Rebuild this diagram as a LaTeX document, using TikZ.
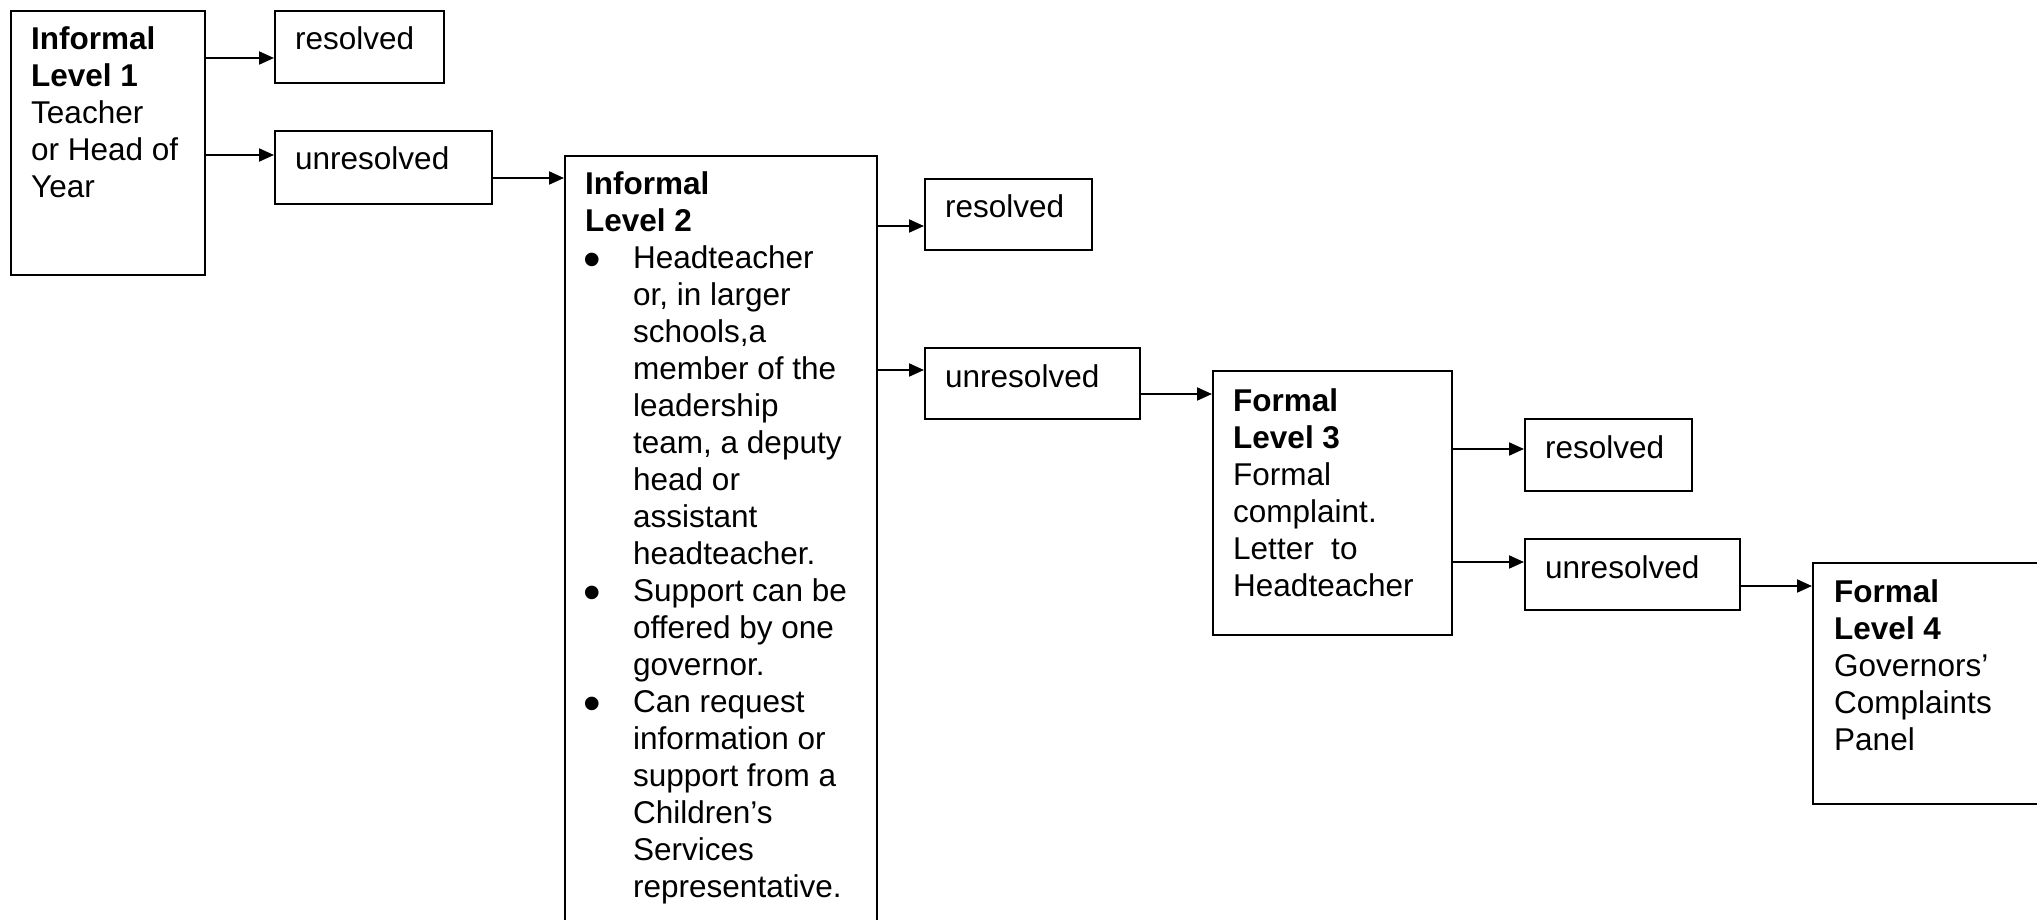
\documentclass[tikz,border=0pt]{standalone}
\usepackage{fontspec}
\setmainfont{Liberation Sans}
\usetikzlibrary{arrows.meta}
\newcommand{\bul}{\makebox[48pt][l]{\makebox[14pt][c]{\fontsize{50}{37}\selectfont\raisebox{-8pt}{•}}}}
\newcommand{\ind}{\hspace*{48pt}}
\begin{document}
\begin{tikzpicture}[x=1pt,y=-1pt,
  box/.style={draw, line width=2pt, inner sep=0pt, anchor=north west},
  txt/.style={inner sep=0pt, anchor=base west, font=\fontsize{31.5}{37}\selectfont},
  arr/.style={line width=2pt, -{Triangle[length=15pt,width=13pt]}}]
\useasboundingbox (0,0) rectangle (2037,920);
\clip (0,0) rectangle (2037,920);
% boxes
\node[box, minimum width=194pt, minimum height=264pt] (l1) at (10,10) {};
\node[box, minimum width=169pt, minimum height=72pt] (r1) at (274,10) {};
\node[box, minimum width=217pt, minimum height=73pt] (u1) at (274,130) {};
\node[box, minimum width=312pt, minimum height=800pt] (l2) at (564,155) {};
\node[box, minimum width=167pt, minimum height=71pt] (r2) at (924,178) {};
\node[box, minimum width=215pt, minimum height=71pt] (u2) at (924,347) {};
\node[box, minimum width=239pt, minimum height=264pt] (l3) at (1212,370) {};
\node[box, minimum width=167pt, minimum height=72pt] (r3) at (1524,418) {};
\node[box, minimum width=215pt, minimum height=71pt] (u3) at (1524,538) {};
\node[box, minimum width=260pt, minimum height=241pt] (l4) at (1812,562) {};
% texts
\node[txt] (t1) at (31,50) {\begin{tabular}[t]{@{}l@{}}\textbf{Informal}\\\textbf{Level 1}\\Teacher\\or Head of\\Year\end{tabular}};
\node[txt] (tr1) at (295,50) {resolved};
\node[txt] (tu1) at (295,170) {unresolved};
\node[txt] (t2) at (585,195) {\begin{tabular}[t]{@{}l@{}}\textbf{Informal}\\\textbf{Level 2}\\
\bul Headteacher\\\ind or, in larger\\\ind schools,a\\\ind member of the\\\ind leadership\\\ind team, a deputy\\\ind head or\\\ind assistant\\\ind headteacher.\\
\bul Support can be\\\ind offered by one\\\ind governor.\\
\bul Can request\\\ind information or\\\ind support from a\\\ind Children’s\\\ind Services\\\ind representative.\end{tabular}};
\node[txt] (tr2) at (945,218) {resolved};
\node[txt] (tu2) at (945,387) {unresolved};
\node[txt] (t3) at (1233,411) {\begin{tabular}[t]{@{}l@{}}\textbf{Formal}\\\textbf{Level 3}\\Formal\\complaint.\\Letter~~to\\Headteacher\end{tabular}};
\node[txt] (tr3) at (1545,458) {resolved};
\node[txt] (tu3) at (1545,578) {unresolved};
\node[txt] (t4) at (1834,602) {\begin{tabular}[t]{@{}l@{}}\textbf{Formal}\\\textbf{Level 4}\\Governors’\\Complaints\\Panel\end{tabular}};
% connectors
\draw[arr] (l1.east |- 0,58) -- (r1.west |- 0,58);
\draw[arr] (l1.east |- 0,155) -- (u1.west |- 0,155);
\draw[arr] (u1.east |- 0,178) -- (l2.west |- 0,178);
\draw[arr] (l2.east |- 0,226) -- (r2.west |- 0,226);
\draw[arr] (l2.east |- 0,370) -- (u2.west |- 0,370);
\draw[arr] (u2.east |- 0,394) -- (l3.west |- 0,394);
\draw[arr] (l3.east |- 0,449) -- (r3.west |- 0,449);
\draw[arr] (l3.east |- 0,562) -- (u3.west |- 0,562);
\draw[arr] (u3.east |- 0,586) -- (l4.west |- 0,586);
\end{tikzpicture}
\end{document}
